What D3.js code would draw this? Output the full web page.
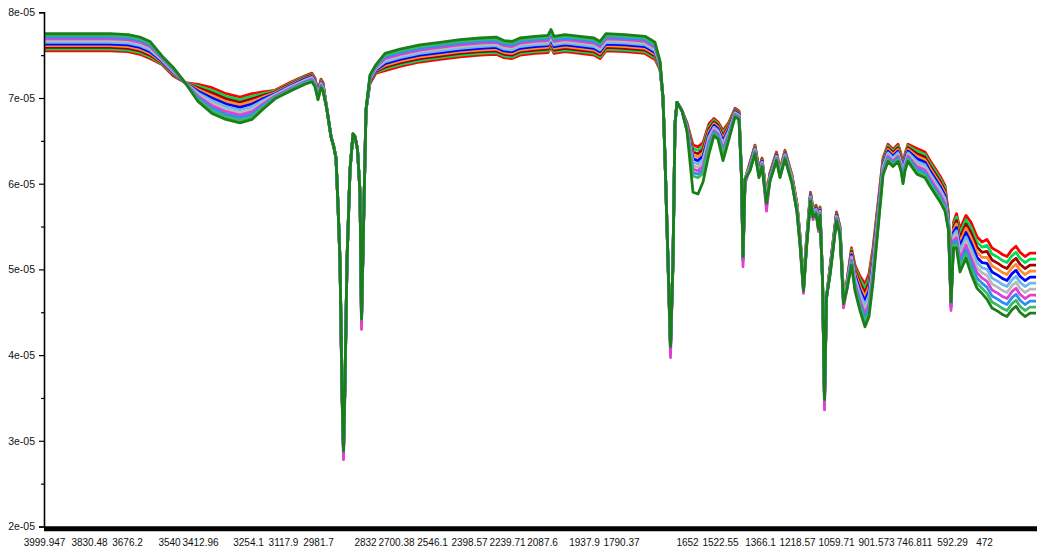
<!DOCTYPE html>
<html>
<head>
<meta charset="utf-8">
<script src="https://cdn.jsdelivr.net/npm/d3@7"></script>
<style>
  html, body { margin: 0; padding: 0; background: #ffffff; }
  svg { display: block; }
</style>
</head>
<body>
<svg id="chart" width="1037" height="547"></svg>
<script>
// ---------------- data ----------------
const xTickLabels = ["3999.947","3830.48","3676.2","3540","3412.96","3254.1","3117.9","2981.7",
  "2832","2700.38","2546.1","2398.57","2239.71","2087.6","1937.9","1790.37","1652","1522.55",
  "1366.1","1218.57","1059.71","901.573","746.811","592.29","472"];
// category (channel) index at which each label sits
const xTickChannel = [0,45,83,125,156,204,239,274,321,352,388,425,463,498,540,577,643,676,716,753,792,832,870,908,940];

const yTickValues = [2e-5, 3e-5, 4e-5, 5e-5, 6e-5, 7e-5, 8e-5];
const yMinorTickValues = [2.5e-5, 3.5e-5, 4.5e-5, 5.5e-5, 6.5e-5, 7.5e-5];
const valueUnit = 1e-5; // series values below are in units of 1e-5

const channel = [
  0,36,66,84,96,106,118,129,141,154,
  168,182,196,208,219,231,246,261,268,271,
  274,277,279,283,287,290,292,294,296,298,
  299.5,301,303,306,309,311,313.5,316,317.5,319.5,
  322,326,332,341,356,376,396,416,436,452,
  460,468,476,491,504,507,510,521,536,550,
  556,562,581,601,611,616,619,621,624,626.5,
  629,631,633,638,643,649,654,659,665,670,
  674,679,685,691,695,697.5,699,701,706,711,
  715,718,722.5,726,732.5,736,741,748,753,756,
  759.5,762.5,766.5,769,772,774.5,776,778.5,780.5,782.5,
  786,789,792.5,796,798,799.5,803,807.5,811,816,
  821,825,829,834,839,844,849,854,857,859,
  861,864,873,881,886,896,901,904.5,907,909.5,
  912.5,916,922,927,933,938,943,948,954,959,
  963,968,972,976,981,986,992];

const spectrum01 = [
  7.55,7.55,7.55,7.54,7.51,7.46,7.39,7.26,7.18,7.16,
  7.12,7.05,7.01,7.05,7.07,7.09,7.18,7.26,7.29,7.23,
  7.08,7.22,7.18,6.86,6.55,6.42,6.30,5.75,5.10,3.60,
  2.88,3.70,5.10,6.16,6.58,6.55,6.40,5.90,4.42,5.50,
  6.86,7.17,7.29,7.32,7.37,7.42,7.45,7.48,7.50,7.51,
  7.47,7.46,7.50,7.52,7.53,7.60,7.52,7.54,7.52,7.50,
  7.46,7.55,7.54,7.52,7.45,7.33,7.00,6.30,5.10,4.10,
  5.10,6.70,6.95,6.85,6.71,6.45,6.43,6.48,6.70,6.76,
  6.72,6.62,6.72,6.88,6.85,6.10,5.15,6.05,6.25,6.45,
  6.17,6.30,5.87,6.13,6.37,6.17,6.39,6.10,5.77,5.40,
  4.85,5.35,5.90,5.71,5.75,5.57,5.73,4.90,3.48,4.68,
  5.03,5.32,5.67,5.50,5.05,4.70,4.87,5.25,5.05,4.92,
  4.83,4.95,5.25,5.77,6.30,6.46,6.40,6.46,6.35,6.20,
  6.35,6.46,6.41,6.37,6.27,6.09,5.98,5.65,4.62,5.55,
  5.65,5.47,5.63,5.55,5.38,5.32,5.35,5.25,5.21,5.17,
  5.15,5.23,5.27,5.20,5.15,5.19,5.19];

const spectrum02 = [
  7.57,7.57,7.57,7.56,7.53,7.48,7.40,7.27,7.18,7.14,
  7.09,7.02,6.98,7.02,7.05,7.08,7.17,7.25,7.28,7.22,
  7.07,7.21,7.17,6.86,6.55,6.42,6.30,5.75,5.10,3.60,
  2.88,3.70,5.10,6.16,6.58,6.55,6.40,5.90,4.42,5.50,
  6.86,7.18,7.30,7.34,7.39,7.44,7.47,7.50,7.52,7.53,
  7.49,7.48,7.52,7.54,7.55,7.62,7.54,7.56,7.54,7.52,
  7.48,7.57,7.56,7.54,7.47,7.34,7.00,6.30,5.10,4.10,
  5.10,6.70,6.95,6.85,6.70,6.41,6.39,6.44,6.67,6.74,
  6.70,6.59,6.70,6.87,6.84,6.10,5.15,6.05,6.24,6.44,
  6.16,6.29,5.86,6.12,6.36,6.16,6.38,6.09,5.76,5.39,
  4.84,5.34,5.89,5.70,5.74,5.56,5.72,4.90,3.48,4.68,
  5.02,5.31,5.66,5.49,5.04,4.69,4.86,5.23,5.02,4.88,
  4.78,4.90,5.21,5.74,6.28,6.44,6.38,6.44,6.33,6.18,
  6.33,6.44,6.38,6.34,6.24,6.06,5.95,5.63,4.62,5.52,
  5.61,5.42,5.58,5.49,5.32,5.26,5.28,5.18,5.14,5.10,
  5.08,5.16,5.20,5.13,5.08,5.12,5.12];

const spectrum03 = [
  7.59,7.59,7.59,7.58,7.55,7.50,7.41,7.28,7.18,7.12,
  7.06,6.99,6.95,6.99,7.03,7.07,7.16,7.24,7.27,7.21,
  7.06,7.20,7.16,6.86,6.55,6.42,6.30,5.75,5.10,3.60,
  2.88,3.70,5.10,6.16,6.58,6.55,6.40,5.90,4.42,5.50,
  6.86,7.19,7.31,7.36,7.41,7.46,7.49,7.52,7.54,7.55,
  7.51,7.50,7.54,7.56,7.57,7.64,7.56,7.58,7.56,7.54,
  7.50,7.59,7.58,7.56,7.49,7.35,7.00,6.30,5.10,4.10,
  5.10,6.70,6.95,6.85,6.69,6.37,6.35,6.40,6.64,6.72,
  6.68,6.56,6.68,6.86,6.83,6.10,5.15,6.05,6.23,6.43,
  6.15,6.28,5.85,6.11,6.35,6.15,6.37,6.08,5.75,5.38,
  4.83,5.33,5.88,5.69,5.73,5.55,5.71,4.90,3.48,4.68,
  5.01,5.30,5.65,5.48,5.03,4.68,4.85,5.21,4.99,4.84,
  4.73,4.85,5.17,5.71,6.26,6.42,6.36,6.42,6.31,6.16,
  6.31,6.42,6.35,6.31,6.21,6.03,5.92,5.61,4.62,5.49,
  5.57,5.37,5.53,5.43,5.26,5.20,5.21,5.11,5.07,5.03,
  5.01,5.09,5.13,5.06,5.01,5.05,5.05];

const spectrum04 = [
  7.61,7.61,7.61,7.60,7.57,7.52,7.42,7.29,7.18,7.10,
  7.03,6.96,6.92,6.96,7.01,7.06,7.15,7.23,7.26,7.20,
  7.05,7.19,7.15,6.86,6.55,6.42,6.30,5.75,5.10,3.60,
  2.88,3.70,5.10,6.16,6.58,6.55,6.40,5.90,4.42,5.50,
  6.86,7.20,7.32,7.38,7.43,7.48,7.51,7.54,7.56,7.57,
  7.53,7.52,7.56,7.58,7.59,7.66,7.58,7.60,7.58,7.56,
  7.52,7.61,7.60,7.58,7.51,7.36,7.00,6.30,5.10,4.10,
  5.10,6.70,6.95,6.85,6.68,6.33,6.31,6.36,6.61,6.70,
  6.66,6.53,6.66,6.85,6.82,6.10,5.15,6.05,6.22,6.42,
  6.14,6.27,5.84,6.10,6.34,6.14,6.36,6.07,5.74,5.37,
  4.82,5.32,5.87,5.68,5.72,5.54,5.70,4.90,3.48,4.68,
  5.00,5.29,5.64,5.47,5.02,4.67,4.84,5.19,4.96,4.80,
  4.68,4.80,5.13,5.68,6.24,6.40,6.34,6.40,6.29,6.14,
  6.29,6.40,6.32,6.28,6.18,6.00,5.89,5.59,4.62,5.46,
  5.53,5.32,5.48,5.37,5.20,5.14,5.14,5.04,5.00,4.96,
  4.94,5.02,5.06,4.99,4.94,4.98,4.98];

const spectrum05 = [
  7.63,7.63,7.63,7.62,7.59,7.54,7.43,7.30,7.18,7.08,
  7.00,6.93,6.89,6.93,6.99,7.05,7.14,7.22,7.25,7.19,
  7.04,7.18,7.14,6.86,6.55,6.42,6.30,5.75,5.10,3.55,
  2.84,3.65,5.10,6.16,6.58,6.55,6.40,5.90,4.38,5.50,
  6.86,7.21,7.33,7.40,7.45,7.50,7.53,7.56,7.58,7.59,
  7.55,7.54,7.58,7.60,7.61,7.68,7.60,7.62,7.60,7.58,
  7.54,7.63,7.62,7.60,7.53,7.37,7.00,6.30,5.10,4.05,
  5.10,6.70,6.95,6.85,6.67,6.29,6.27,6.32,6.58,6.68,
  6.64,6.50,6.64,6.84,6.81,6.08,5.10,6.03,6.21,6.41,
  6.13,6.26,5.75,6.09,6.33,6.10,6.35,6.04,5.70,5.33,
  4.76,5.28,5.86,5.62,5.71,5.47,5.69,4.88,3.42,4.66,
  4.99,5.28,5.63,5.46,4.98,4.60,4.83,5.17,4.93,4.76,
  4.63,4.75,5.09,5.65,6.22,6.38,6.32,6.38,6.27,6.12,
  6.27,6.38,6.29,6.25,6.15,5.97,5.86,5.57,4.56,5.43,
  5.49,5.27,5.43,5.31,5.14,5.08,5.07,4.97,4.93,4.89,
  4.87,4.95,4.99,4.92,4.87,4.91,4.91];

const spectrum06 = [
  7.65,7.65,7.65,7.64,7.61,7.56,7.44,7.31,7.18,7.06,
  6.97,6.90,6.86,6.90,6.97,7.04,7.13,7.21,7.24,7.18,
  7.03,7.17,7.13,6.86,6.55,6.42,6.30,5.75,5.10,3.60,
  2.88,3.70,5.10,6.16,6.58,6.55,6.40,5.90,4.42,5.50,
  6.86,7.22,7.34,7.42,7.47,7.52,7.55,7.58,7.60,7.61,
  7.57,7.56,7.60,7.62,7.63,7.70,7.62,7.64,7.62,7.60,
  7.56,7.65,7.64,7.62,7.55,7.38,7.00,6.30,5.10,4.10,
  5.10,6.70,6.95,6.85,6.66,6.25,6.23,6.28,6.55,6.66,
  6.62,6.47,6.62,6.83,6.80,6.10,5.15,6.05,6.20,6.40,
  6.12,6.25,5.82,6.08,6.32,6.12,6.34,6.05,5.72,5.35,
  4.80,5.30,5.85,5.66,5.70,5.52,5.68,4.90,3.48,4.68,
  4.98,5.27,5.62,5.45,5.00,4.65,4.82,5.15,4.90,4.72,
  4.58,4.70,5.05,5.62,6.20,6.36,6.30,6.36,6.25,6.10,
  6.25,6.36,6.26,6.22,6.12,5.94,5.83,5.55,4.62,5.40,
  5.45,5.22,5.38,5.25,5.08,5.02,5.00,4.90,4.86,4.82,
  4.80,4.88,4.92,4.85,4.80,4.84,4.84];

const spectrum07 = [
  7.67,7.67,7.67,7.66,7.63,7.58,7.45,7.32,7.18,7.04,
  6.94,6.87,6.83,6.87,6.95,7.03,7.12,7.20,7.23,7.17,
  7.02,7.16,7.12,6.86,6.55,6.42,6.30,5.75,5.10,3.60,
  2.88,3.70,5.10,6.16,6.58,6.55,6.40,5.90,4.42,5.50,
  6.86,7.23,7.35,7.44,7.49,7.54,7.57,7.60,7.62,7.63,
  7.59,7.58,7.62,7.64,7.65,7.72,7.64,7.66,7.64,7.62,
  7.58,7.67,7.66,7.64,7.57,7.39,7.00,6.30,5.10,4.10,
  5.10,6.70,6.95,6.85,6.65,6.21,6.19,6.24,6.52,6.64,
  6.60,6.44,6.60,6.82,6.79,6.10,5.15,6.05,6.19,6.39,
  6.11,6.24,5.81,6.07,6.31,6.11,6.33,6.04,5.71,5.34,
  4.79,5.29,5.84,5.65,5.69,5.51,5.67,4.90,3.48,4.68,
  4.97,5.26,5.61,5.44,4.99,4.64,4.81,5.13,4.87,4.68,
  4.53,4.65,5.01,5.59,6.18,6.34,6.28,6.34,6.23,6.08,
  6.23,6.34,6.23,6.19,6.09,5.91,5.80,5.53,4.62,5.37,
  5.41,5.17,5.33,5.19,5.02,4.96,4.93,4.83,4.79,4.75,
  4.73,4.81,4.85,4.78,4.73,4.77,4.77];

const spectrum08 = [
  7.69,7.69,7.69,7.68,7.65,7.60,7.46,7.33,7.18,7.02,
  6.91,6.84,6.80,6.84,6.93,7.02,7.11,7.19,7.22,7.16,
  7.01,7.15,7.11,6.86,6.55,6.42,6.30,5.75,5.10,3.50,
  2.78,3.60,5.10,6.16,6.58,6.55,6.40,5.88,4.30,5.50,
  6.86,7.24,7.36,7.46,7.51,7.56,7.59,7.62,7.64,7.65,
  7.61,7.60,7.64,7.66,7.67,7.74,7.66,7.68,7.66,7.64,
  7.60,7.69,7.68,7.66,7.59,7.40,7.00,6.30,5.05,3.97,
  5.05,6.70,6.95,6.85,6.64,6.17,6.15,6.20,6.49,6.62,
  6.58,6.41,6.58,6.81,6.78,6.05,5.03,6.00,6.18,6.38,
  6.10,6.23,5.68,6.06,6.30,6.10,6.32,6.03,5.66,5.28,
  4.72,5.26,5.83,5.58,5.68,5.44,5.66,4.85,3.36,4.65,
  4.96,5.25,5.60,5.43,4.93,4.55,4.78,5.11,4.84,4.64,
  4.48,4.60,4.97,5.56,6.16,6.32,6.26,6.32,6.21,6.06,
  6.21,6.32,6.20,6.16,6.06,5.88,5.77,5.51,4.52,5.34,
  5.37,5.12,5.28,5.13,4.96,4.90,4.86,4.76,4.72,4.68,
  4.66,4.74,4.78,4.71,4.66,4.70,4.70];

const spectrum09 = [
  7.71,7.71,7.71,7.70,7.67,7.62,7.47,7.34,7.18,7.00,
  6.88,6.81,6.77,6.81,6.91,7.01,7.10,7.18,7.21,7.15,
  7.00,7.14,7.10,6.86,6.55,6.42,6.30,5.75,5.10,3.60,
  2.88,3.70,5.10,6.16,6.58,6.55,6.40,5.90,4.42,5.50,
  6.86,7.25,7.37,7.48,7.53,7.58,7.61,7.64,7.66,7.67,
  7.63,7.62,7.66,7.68,7.69,7.76,7.68,7.70,7.68,7.66,
  7.62,7.71,7.70,7.68,7.61,7.41,7.00,6.30,5.10,4.10,
  5.10,6.70,6.95,6.85,6.63,6.13,6.11,6.16,6.46,6.60,
  6.56,6.38,6.56,6.80,6.77,6.10,5.15,6.05,6.17,6.37,
  6.09,6.22,5.79,6.05,6.29,6.09,6.31,6.02,5.69,5.32,
  4.77,5.27,5.82,5.63,5.67,5.49,5.65,4.90,3.48,4.68,
  4.95,5.24,5.59,5.42,4.97,4.62,4.79,5.09,4.81,4.60,
  4.43,4.55,4.93,5.53,6.14,6.30,6.24,6.30,6.19,6.04,
  6.19,6.30,6.17,6.13,6.03,5.85,5.74,5.49,4.62,5.31,
  5.33,5.07,5.23,5.07,4.90,4.84,4.79,4.69,4.65,4.61,
  4.59,4.67,4.71,4.64,4.59,4.63,4.63];

const spectrum10 = [
  7.73,7.73,7.73,7.72,7.69,7.64,7.48,7.35,7.18,6.98,
  6.85,6.78,6.74,6.78,6.89,7.00,7.09,7.17,7.20,7.14,
  6.99,7.13,7.09,6.86,6.55,6.42,6.30,5.75,5.10,3.60,
  2.88,3.70,5.10,6.16,6.58,6.55,6.40,5.90,4.42,5.50,
  6.86,7.26,7.38,7.50,7.55,7.60,7.63,7.66,7.68,7.69,
  7.65,7.64,7.68,7.70,7.71,7.78,7.70,7.72,7.70,7.68,
  7.64,7.73,7.72,7.70,7.63,7.42,7.00,6.30,5.10,4.10,
  5.10,6.70,6.95,6.85,6.62,6.09,6.07,6.12,6.43,6.58,
  6.54,6.35,6.54,6.79,6.76,6.10,5.15,6.05,6.16,6.36,
  6.08,6.21,5.78,6.04,6.28,6.08,6.30,6.01,5.68,5.31,
  4.76,5.26,5.81,5.62,5.66,5.48,5.64,4.90,3.48,4.68,
  4.94,5.23,5.58,5.41,4.96,4.61,4.78,5.07,4.78,4.56,
  4.38,4.50,4.89,5.50,6.12,6.28,6.22,6.28,6.17,6.02,
  6.17,6.28,6.14,6.10,6.00,5.82,5.71,5.47,4.62,5.28,
  5.29,5.02,5.18,5.01,4.84,4.78,4.72,4.62,4.58,4.54,
  4.52,4.60,4.64,4.57,4.52,4.56,4.56];

const spectrum11 = [
  7.75,7.75,7.75,7.74,7.71,7.66,7.49,7.36,7.18,6.96,
  6.82,6.75,6.71,6.75,6.87,6.99,7.08,7.16,7.19,7.13,
  6.98,7.12,7.08,6.86,6.55,6.42,6.30,5.75,5.10,3.60,
  2.88,3.70,5.10,6.16,6.58,6.55,6.40,5.90,4.42,5.50,
  6.86,7.27,7.39,7.52,7.57,7.62,7.65,7.68,7.70,7.71,
  7.67,7.66,7.70,7.72,7.73,7.80,7.72,7.74,7.72,7.70,
  7.66,7.75,7.74,7.72,7.65,7.43,7.00,6.30,5.10,4.10,
  5.10,6.70,6.95,6.85,6.61,5.90,5.88,6.02,6.35,6.56,
  6.52,6.27,6.52,6.78,6.75,6.10,5.15,6.05,6.15,6.35,
  6.07,6.20,5.77,6.03,6.27,6.07,6.29,6.00,5.67,5.30,
  4.75,5.25,5.80,5.61,5.65,5.47,5.63,4.90,3.48,4.68,
  4.93,5.22,5.57,5.40,4.95,4.60,4.77,5.05,4.75,4.52,
  4.33,4.45,4.85,5.47,6.10,6.26,6.20,6.26,6.15,6.00,
  6.15,6.26,6.11,6.07,5.97,5.79,5.68,5.45,4.62,5.25,
  5.25,4.97,5.13,4.95,4.78,4.72,4.65,4.55,4.51,4.47,
  4.45,4.53,4.57,4.50,4.45,4.49,4.49];

// ---------------- styles (kept apart from data) ----------------
const seriesList = [spectrum01, spectrum02, spectrum03, spectrum04, spectrum05, spectrum06,
                    spectrum07, spectrum08, spectrum09, spectrum10, spectrum11];
const seriesColors = ["#ff0000", "#00dd55", "#a50000", "#ff8c2a", "#0000ff", "#66b8ee",
                      "#b9b9b9", "#e040d0", "#2a8ff5", "#3cb864", "#1a7f1a"];
const fontFamily = "'Liberation Sans', Arial, Helvetica, sans-serif";

// ---------------- chart ----------------
const svg = d3.select("#chart");
const plot = { left: 44, right: 1036, top: 12.3, bottom: 526.5 };

const x = d3.scaleLinear().domain([0, 992]).range([plot.left, plot.right]);
const y = d3.scaleLinear().domain([2e-5, 8e-5]).range([plot.bottom, plot.top]);

function expFormat(v) {
  const parts = v.toExponential(0).split("e");
  const e = +parts[1];
  return parts[0] + "e" + (e < 0 ? "-" : "+") + String(Math.abs(e)).padStart(2, "0");
}

// lines
const line = d3.line()
  .x((d, i) => x(channel[i]))
  .y(d => y(d * valueUnit));

const g = svg.append("g");
seriesList.forEach((vals, k) => {
  g.append("path")
    .datum(vals)
    .attr("fill", "none")
    .attr("stroke", seriesColors[k])
    .attr("stroke-width", 2.8)
    .attr("stroke-linejoin", "round")
    .attr("d", line);
});

// y axis
const yAxis = d3.axisLeft(y).tickValues(yTickValues).tickFormat(expFormat).tickSize(5).tickPadding(4);
const yg = svg.append("g").attr("transform", `translate(${plot.left},0)`).call(yAxis);
yg.select(".domain").attr("stroke", "#000").attr("stroke-width", 1.6);
yg.selectAll(".tick line").attr("stroke", "#000").attr("stroke-width", 1.2);
yg.selectAll(".tick text").attr("font-size", 10.5).attr("fill", "#111")
  .attr("font-family", fontFamily);

const yMinor = d3.axisLeft(y).tickValues(yMinorTickValues).tickFormat("").tickSize(3);
const ymg = svg.append("g").attr("transform", `translate(${plot.left},0)`).call(yMinor);
ymg.select(".domain").remove();
ymg.selectAll(".tick line").attr("stroke", "#000").attr("stroke-width", 1.2);

// x axis: thick bar, labels at their channels, no tick marks
const xAxis = d3.axisBottom(x)
  .tickValues(xTickChannel)
  .tickFormat((d, i) => xTickLabels[i])
  .tickSize(0).tickPadding(12);
const xg = svg.append("g").attr("transform", `translate(0,${plot.bottom})`).call(xAxis);
xg.select(".domain").remove();
xg.append("line")
  .attr("x1", plot.left).attr("x2", 1037)
  .attr("y1", 2.3).attr("y2", 2.3)
  .attr("stroke", "#000").attr("stroke-width", 5);
xg.selectAll(".tick text").attr("font-size", 10).attr("fill", "#111")
  .attr("font-family", fontFamily);
</script>
</body>
</html>
